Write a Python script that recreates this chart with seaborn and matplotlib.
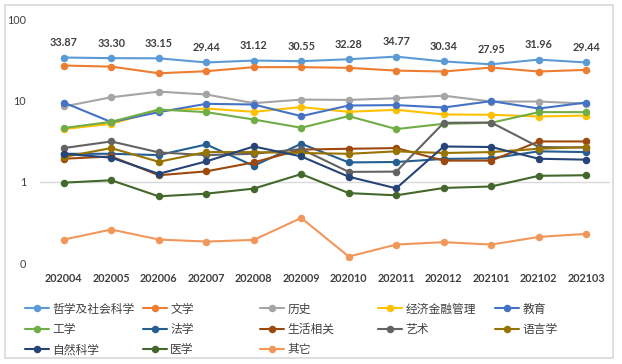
import matplotlib
matplotlib.use("Agg")
import matplotlib.pyplot as plt
import matplotlib.patches as mpatches
from matplotlib.ticker import NullLocator
import numpy as np
import pandas as pd
import seaborn as sns

months = ["202004", "202005", "202006", "202007", "202008", "202009",
          "202010", "202011", "202012", "202101", "202102", "202103"]

names = ["哲学及社会科学", "文学", "历史", "经济金融管理", "教育", "工学", "法学",
         "生活相关", "艺术", "语言学", "自然科学", "医学", "其它"]

phil = [33.87, 33.30, 33.15, 29.44, 31.12, 30.55, 32.28, 34.77, 30.34, 27.95, 31.96, 29.44]
lit = [27.0, 26.2, 21.7, 23.0, 25.8, 25.8, 25.3, 23.4, 22.8, 25.5, 22.8, 23.9]
hist = [8.47, 11.0, 12.9, 11.9, 9.31, 10.3, 10.2, 10.7, 11.5, 9.75, 9.75, 9.2]
econ = [4.47, 5.19, 7.56, 8.0, 7.29, 8.32, 7.29, 7.71, 6.76, 6.70, 6.38, 6.56]
edu = [9.48, 5.45, 7.22, 9.14, 8.96, 6.45, 8.71, 8.81, 8.23, 9.86, 8.0, 9.48]
eng = [4.60, 5.49, 7.78, 7.22, 5.86, 4.64, 6.45, 4.47, 5.19, 5.34, 7.22, 7.22]
law = [2.22, 2.22, 2.14, 2.89, 1.58, 2.95, 1.74, 1.76, 1.92, 1.95, 2.38, 2.33]
life = [1.93, 2.06, 1.21, 1.35, 1.74, 2.50, 2.56, 2.61, 1.83, 1.83, 3.15, 3.15]
art = [2.61, 3.15, 2.31, 2.14, 2.22, 2.54, 1.33, 1.34, 5.34, 5.38, 2.69, 2.65]
lang = [2.03, 2.61, 1.77, 2.33, 2.33, 2.27, 2.22, 2.38, 2.27, 2.33, 2.56, 2.69]
nat = [2.22, 1.99, 1.26, 1.79, 2.73, 2.06, 1.16, 0.835, 2.73, 2.69, 1.93, 1.88]
med = [0.98, 1.05, 0.666, 0.718, 0.828, 1.25, 0.73, 0.685, 0.844, 0.88, 1.19, 1.21]
other = [0.196, 0.260, 0.196, 0.185, 0.194, 0.361, 0.121, 0.170, 0.182, 0.170, 0.211, 0.230]

colors = ["#5B9BD5", "#ED7D31", "#A5A5A5", "#FFC000", "#4472C4", "#70AD47", "#255E91",
          "#9E480E", "#636363", "#997300", "#264478", "#43682B", "#F1975A"]

y_ticks = [0.1, 1, 10, 100]
y_tick_labels = ["0", "1", "10", "100"]

series = [phil, lit, hist, econ, edu, eng, law, life, art, lang, nat, med, other]
rows = []
for nm, vals in zip(names, series):
    for i, v in enumerate(vals):
        rows.append({"idx": i, "month": months[i], "series": nm, "value": v})
df = pd.DataFrame(rows)

sns.set_theme(style="white")
plt.rcParams["font.family"] = ["Lato", "Noto Sans CJK SC", "DejaVu Sans"]

fig = plt.figure(figsize=(6.22, 3.64), dpi=100)
ax = fig.add_axes([40 / 622, 1 - 263.3 / 364, 570 / 622, (263.3 - 19.3) / 364])

ax.axhline(1, color="#D9D9D9", lw=1.0, zorder=0)

sns.lineplot(data=df, x="idx", y="value", hue="series", hue_order=names,
             palette=colors, marker="o", markersize=5.4, markeredgewidth=0,
             linewidth=1.5, sort=False, ax=ax, legend=True)

ax.set_yscale("log")
ax.set_ylim(0.1, 100)
ax.set_xlim(-0.5, len(months) - 0.5)
ax.set_yticks(y_ticks)
ax.set_yticklabels(y_tick_labels)
ax.yaxis.set_minor_locator(NullLocator())
ax.set_xticks(range(len(months)))
ax.set_xticklabels(months, fontweight="bold")
ax.tick_params(axis="y", length=0, pad=10, labelsize=7.8, labelcolor="#404040")
ax.tick_params(axis="x", length=0, pad=7, labelsize=7.8, labelcolor="#404040")
ax.set_xlabel("")
ax.set_ylabel("")
for s in ax.spines.values():
    s.set_visible(False)
ax.grid(False)

for i, v in enumerate(phil):
    ax.annotate(f"{v:.2f}", (i, v), xytext=(0, 10.6), textcoords="offset points",
                ha="center", va="center", fontsize=7.8, fontweight="bold", color="#404040")

handles, labels = ax.get_legend_handles_labels()
ax.get_legend().remove()
hmap = dict(zip(labels, handles))

ncol = 5
col_x = [25, 143, 260, 378, 495]
for c in range(ncol):
    items = names[c::ncol]
    lg = fig.legend([hmap[n] for n in items], items,
                    loc="upper left", bbox_to_anchor=(col_x[c] / 622, 1 - 302.5 / 364),
                    frameon=False, borderpad=0, borderaxespad=0,
                    handlelength=2.0, handletextpad=0.3, labelspacing=0.63,
                    prop={"family": ["Noto Sans CJK SC"], "size": 8.5})
    for t in lg.get_texts():
        t.set_color("#404040")

fig.patches.append(mpatches.Rectangle((5 / 622, 1 - 358 / 364), 608 / 622, 353 / 364,
                                      transform=fig.transFigure, fill=False,
                                      edgecolor="#D9D9D9", linewidth=1.2))

fig.savefig("out.png", dpi=100)
